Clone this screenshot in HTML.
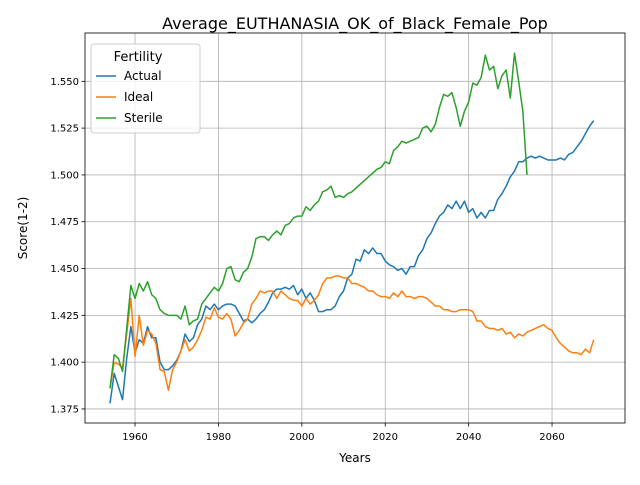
<!DOCTYPE html>
<html><head><meta charset="utf-8"><style>
body{margin:0;background:#fff;font-family:"Liberation Sans","DejaVu Sans",sans-serif}
svg text{font-family:"DejaVu Sans","Liberation Sans",sans-serif}
</style></head><body>
<svg id="chart" width="640" height="480" xmlns="http://www.w3.org/2000/svg"></svg>
<script>
const startYear = 1954;
const actual = [1.378,1.394,1.387,1.380,1.402,1.419,1.405,1.412,1.410,1.419,1.413,1.413,1.400,1.396,1.396,1.398,1.401,1.406,1.415,1.411,1.413,1.420,1.423,1.430,1.428,1.431,1.428,1.430,1.431,1.431,1.430,1.426,1.422,1.423,1.421,1.423,1.426,1.428,1.432,1.437,1.439,1.439,1.440,1.439,1.441,1.436,1.439,1.434,1.437,1.433,1.427,1.427,1.428,1.428,1.430,1.435,1.438,1.445,1.447,1.455,1.454,1.460,1.458,1.461,1.458,1.458,1.454,1.452,1.451,1.449,1.450,1.447,1.451,1.451,1.457,1.460,1.466,1.469,1.474,1.478,1.480,1.484,1.482,1.486,1.482,1.486,1.480,1.482,1.477,1.480,1.477,1.481,1.481,1.487,1.490,1.494,1.499,1.502,1.507,1.507,1.509,1.510,1.509,1.510,1.509,1.508,1.508,1.508,1.509,1.508,1.511,1.512,1.515,1.518,1.522,1.526,1.529];
const ideal = [1.386,1.400,1.399,1.397,1.415,1.434,1.403,1.425,1.409,1.417,1.415,1.410,1.396,1.395,1.385,1.396,1.400,1.406,1.412,1.406,1.408,1.412,1.417,1.424,1.423,1.429,1.424,1.423,1.426,1.423,1.414,1.417,1.421,1.423,1.431,1.434,1.438,1.437,1.438,1.438,1.434,1.438,1.436,1.434,1.433,1.433,1.430,1.434,1.431,1.433,1.436,1.442,1.445,1.445,1.446,1.446,1.445,1.445,1.442,1.442,1.441,1.440,1.438,1.438,1.436,1.435,1.435,1.434,1.437,1.435,1.438,1.435,1.435,1.434,1.435,1.435,1.434,1.432,1.430,1.430,1.428,1.428,1.427,1.427,1.428,1.428,1.428,1.427,1.422,1.422,1.419,1.418,1.418,1.417,1.418,1.415,1.416,1.413,1.415,1.414,1.416,1.417,1.418,1.419,1.420,1.418,1.417,1.413,1.410,1.408,1.406,1.405,1.405,1.404,1.407,1.405,1.412];
const sterile = [1.386,1.404,1.402,1.395,1.418,1.441,1.434,1.442,1.438,1.443,1.436,1.434,1.428,1.426,1.425,1.425,1.425,1.423,1.430,1.420,1.422,1.423,1.431,1.434,1.437,1.440,1.438,1.442,1.450,1.451,1.444,1.443,1.448,1.450,1.456,1.466,1.467,1.467,1.465,1.468,1.470,1.468,1.473,1.474,1.477,1.478,1.478,1.483,1.481,1.484,1.486,1.491,1.492,1.494,1.488,1.489,1.488,1.490,1.491,1.493,1.495,1.497,1.499,1.501,1.503,1.504,1.507,1.506,1.513,1.515,1.518,1.517,1.518,1.519,1.520,1.525,1.526,1.523,1.527,1.536,1.543,1.542,1.544,1.536,1.526,1.534,1.539,1.549,1.548,1.552,1.564,1.556,1.558,1.546,1.553,1.556,1.541,1.565,1.550,1.534,1.500];
const xTicks = [1960,1980,2000,2020,2040,2060];
const yTicks = [1.375,1.400,1.425,1.450,1.475,1.500,1.525,1.550];

const NS='http://www.w3.org/2000/svg';
const svg=document.getElementById('chart');
const L=85,R=625,T=33,B=423;
const x0=1948.0,x1=2077.5,y0=1.3675,y1=1.5758;
const sx=v=>L+(v-x0)/(x1-x0)*(R-L);
const sy=v=>B-(v-y0)/(y1-y0)*(B-T);
function mk(tag,attrs,parent){const e=document.createElementNS(NS,tag);for(const k in attrs)e.setAttribute(k,attrs[k]);(parent||svg).appendChild(e);return e;}

const grid=mk('g',{});


xTicks.forEach(t=>{
  const X=sx(t);
  mk('line',{x1:X,x2:X,y1:T,y2:B,stroke:'#b0b0b0','stroke-width':0.8},grid);
  mk('line',{x1:X,x2:X,y1:B,y2:B+3.5,stroke:'#000','stroke-width':0.8});
  const tx=mk('text',{x:X,y:B+17,'font-size':10,'text-anchor':'middle',fill:'#000'});
  
  
  tx.textContent=t;
});
yTicks.forEach(t=>{
  const Y=sy(t);
  mk('line',{x1:L,x2:R,y1:Y,y2:Y,stroke:'#b0b0b0','stroke-width':0.8},grid);
  mk('line',{x1:L-3.5,x2:L,y1:Y,y2:Y,stroke:'#000','stroke-width':0.8});
  const tx=mk('text',{x:L-6,y:Y+3.5,'font-size':10,'text-anchor':'end',fill:'#000'});
  
  
  tx.textContent=t.toFixed(3);
});
function line(data,color,name){
  const pts=data.map((v,i)=>sx(startYear+i).toFixed(2)+','+sy(v).toFixed(2)).join(' ');
  const p=mk('polyline',{points:pts,fill:'none',stroke:color,'stroke-width':1.5,'stroke-linejoin':'round'});
  
  
}
line(actual,'#1f77b4','actual-line');
line(ideal,'#ff7f0e','ideal-line');
line(sterile,'#2ca02c','sterile-line');
const frame=mk('rect',{x:L,y:T,width:R-L,height:B-T,fill:'none',stroke:'#000','stroke-width':0.8});


</script>
<svg style="position:absolute;left:0;top:0" width="640" height="480" xmlns="http://www.w3.org/2000/svg">
<text x="355" y="29" font-size="16" text-anchor="middle" font-family="DejaVu Sans, sans-serif">Average_EUTHANASIA_OK_of_Black_Female_Pop</text>
<text x="355" y="462" font-size="12" text-anchor="middle" font-family="DejaVu Sans, sans-serif">Years</text>
<text transform="translate(27,228) rotate(-90)" font-size="12" text-anchor="middle" font-family="DejaVu Sans, sans-serif">Score(1-2)</text>
<g font-family="DejaVu Sans, sans-serif">
<rect x="91" y="44" width="109" height="89" rx="3" fill="#fff" fill-opacity="0.8" stroke="#ccc"/>
<text x="138" y="61" font-size="13" text-anchor="middle">Fertility</text>
<line x1="96" x2="116" y1="76" y2="76" stroke="#1f77b4" stroke-width="1.5"/>
<text x="124" y="80" font-size="12">Actual</text>
<line x1="96" x2="116" y1="97" y2="97" stroke="#ff7f0e" stroke-width="1.5"/>
<text x="124" y="101" font-size="12">Ideal</text>
<line x1="96" x2="116" y1="118" y2="118" stroke="#2ca02c" stroke-width="1.5"/>
<text x="124" y="122" font-size="12">Sterile</text>
</g>
</svg>
</body></html>
